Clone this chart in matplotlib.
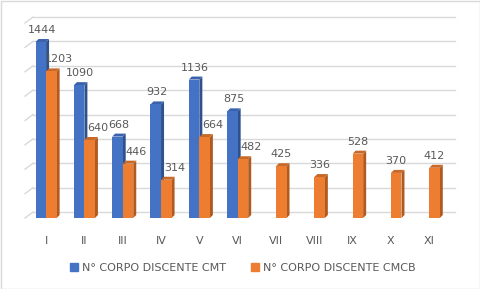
import matplotlib.pyplot as plt
import numpy as np
from matplotlib.patches import Rectangle

# data
categories = ['I', 'II', 'III', 'IV', 'V', 'VI', 'VII', 'VIII', 'IX', 'X', 'XI']
cmt = [1444, 1090, 668, 932, 1136, 875, None, None, None, None, None]
cmcb = [1203, 640, 446, 314, 664, 482, 425, 336, 528, 370, 412]
yticks = [0, 200, 400, 600, 800, 1000, 1200, 1400, 1600]

W, H = 481, 289
fig = plt.figure(figsize=(W / 100, H / 100), dpi=100)
ax = fig.add_axes([25 / W, 1 - 218 / H, 433 / W, 195 / H])
xmin, xmax = -0.55, 10.75
ax.set_xlim(xmin, xmax)
ax.set_ylim(0, 1600)

# pixel -> data unit factors
px_x = 433 / (xmax - xmin)
px_y = 195 / 1600

grid_c = '#D9D9D9'
dxw, dyw = 8 / px_x, 6 / px_y
x_end = xmin + 430 / px_x
for v in yticks:
    ax.plot([xmin + dxw, x_end], [v + dyw, v + dyw], color=grid_c, lw=1, zorder=0, clip_on=False)
    ax.plot([xmin, xmin + dxw], [v, v + dyw], color=grid_c, lw=1, zorder=0, clip_on=False)

w = 0.275
ddx, ddy = 3 / px_x, 3 / px_y
text_c = '#595959'


def bar3d(xc, h, front, side, top):
    x0, x1 = xc - w / 2, xc + w / 2
    ax.fill([x1, x1 + ddx, x1 + ddx, x1], [0, ddy, h + ddy, h], color=side, zorder=2, lw=0)
    ax.fill([x0, x1, x1 + ddx, x0 + ddx], [h, h, h + ddy, h + ddy], color=top, zorder=2, lw=0)
    ax.bar(xc, h, width=w, color=front, zorder=3, lw=0)


x = np.arange(len(categories))
for i in x:
    b = cmt[i]
    o = cmcb[i]
    if b is not None:
        bar3d(i - w / 2, b, '#4472C4', '#2F528F', '#3A62AC')
        ax.annotate(str(b), (i - w / 2, b), xytext=(1, 12), textcoords='offset pixels',
                    ha='center', va='center', fontsize=8, color=text_c)
    bar3d(i + w / 2, o, '#ED7D31', '#AE5A21', '#C8692A')
    off = 8 if b is not None else 0
    ax.annotate(str(o), (i + w / 2, o), xytext=(off, 12), textcoords='offset pixels',
                ha='center', va='center', fontsize=8, color=text_c)

ax.set_xticks(x)
ax.set_xticklabels(categories, fontsize=8, color=text_c)
ax.tick_params(axis='x', length=0, pad=13)
ax.set_yticks([])
for s in ax.spines.values():
    s.set_visible(False)
ax.patch.set_alpha(0)

handles = [Rectangle((0, 0), 1, 1, color='#4472C4'), Rectangle((0, 0), 1, 1, color='#ED7D31')]
fig.legend(handles, ['N° CORPO DISCENTE CMT', 'N° CORPO DISCENTE CMCB'], loc='center',
           bbox_to_anchor=(243 / W, 1 - 268 / H), ncol=2, frameon=False, fontsize=8,
           labelcolor=text_c, handlelength=0.7, handleheight=0.7, handletextpad=0.4,
           columnspacing=2.2)

fig.add_artist(Rectangle((0.5 / W, 0.5 / H), 1 - 1.5 / W, 1 - 1.5 / H, transform=fig.transFigure,
                         fill=False, edgecolor='#D9D9D9', lw=1))

fig.savefig('out.png', dpi=100)
